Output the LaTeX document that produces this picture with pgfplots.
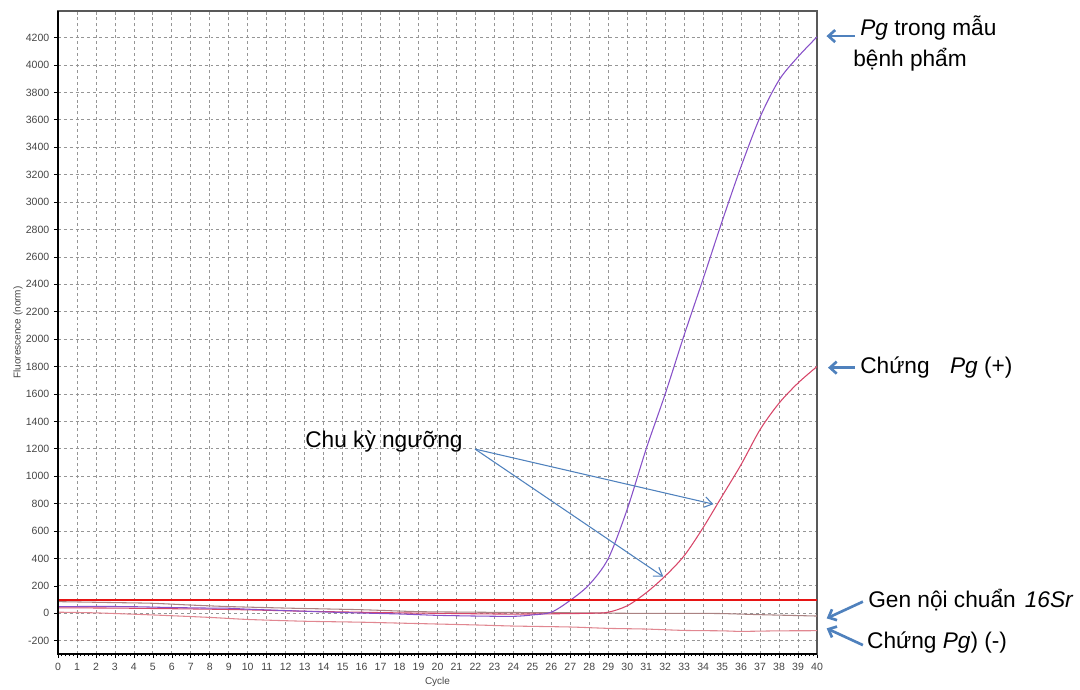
\documentclass[border=0pt]{standalone}
\usepackage{fontspec}
\setmainfont{Liberation Sans}
\usepackage{pgfplots}
\pgfplotsset{compat=1.18}
\usetikzlibrary{arrows.meta}
\definecolor{cpurple}{RGB}{135,80,200}
\definecolor{cred}{RGB}{215,70,105}
\definecolor{cgray}{RGB}{170,130,130}
\definecolor{cpink}{RGB}{225,135,145}
\definecolor{thr}{RGB}{230,20,20}
\definecolor{arrblue}{RGB}{79,129,189}
\definecolor{txtgray}{RGB}{70,70,70}
\definecolor{gridgray}{RGB}{150,150,150}

\pgfplotstableread{
x y
0 48
2 50
4 48
6 42
8 38
9 37
10 30
12 20
14 10
16 2
18 -5
19 -10
20 -15
22 -20
24 -22
25 -12
26 8
27 95
28 210
29 400
30 760
31 1200
32 1600
33 2030
34 2440
35 2860
36 3260
37 3620
38 3890
39 4060
40 4205
}\sample

\pgfplotstableread{
x y
0 40
3 38
5 35
8 30
10 25
13 15
15 10
18 3
20 0
23 -5
25 -5
28 0
29 8
30 55
31 150
32 272
33 420
34 625
35 855
36 1085
37 1340
38 1533
39 1680
40 1800
}\pos

\pgfplotstableread{
x y
0 85
3 78
5 73
7 60
9 49
12 38
16 26
19 12
22 8
25 5
28 3
30 0
33 0
35 -2
37 -10
40 -20
}\gen

\pgfplotstableread{
x y
0 8
2 3
5 -12
8 -30
10 -45
13 -58
16 -65
19 -75
22 -85
24 -93
27 -100
29 -110
31 -115
33 -125
35 -128
36 -132
38 -128
40 -127
}\neg

\begin{document}
\begin{tikzpicture}
\useasboundingbox (-43.5pt,-26.25pt) rectangle (766.5pt,490.5pt);
\begin{axis}[
  at={(0,0)}, anchor=south west,
  scale only axis, width=569.25pt, height=482.25pt,
  xmin=0, xmax=40, ymin=-297, ymax=4394,
  xtick={0,...,40}, ytick={-200,0,...,4200},
  minor x tick num=4,
  tick pos=left,
  grid=major,
  major grid style={draw=gridgray, line width=0.6pt, dash pattern=on 2.2pt off 2.2pt},
  tick align=outside,
  major tick length=3pt, minor tick length=1.8pt,
  tick style={draw=black, line width=0.5pt},
  axis line style={draw=gray!70!black, line width=1.2pt},
  ticklabel style={font=\fontsize{7.9}{9}\selectfont, text=txtgray},
  xticklabel style={text height=6pt, text depth=0pt},
  /pgf/number format/assume math mode=true,
  /pgf/number format/1000 sep={},
  scaled y ticks=false,
  xlabel={Cycle}, ylabel={Fluorescence (norm)},
  every axis x label/.style={at={(axis description cs:0.5,-0.0436)}, anchor=center, font=\fontsize{7.5}{9}\selectfont, text=txtgray},
  every axis y label/.style={at={(axis description cs:-0.0527,0.5)}, rotate=90, anchor=center, font=\fontsize{7.5}{9}\selectfont, text=txtgray},
  clip=false,
]
\addplot[cpink, line width=0.8pt, smooth, tension=0.4] table[x=x,y=y] {\neg};
\addplot[cgray, line width=0.8pt, smooth, tension=0.4] table[x=x,y=y] {\gen};
\addplot[cred, line width=0.8pt, smooth, tension=0.5] table[x=x,y=y] {\pos};
\addplot[cpurple, line width=0.8pt, smooth, tension=0.5] table[x=x,y=y] {\sample};
\addplot[thr, line width=1.6pt] coordinates {(0,100) (40,100)};

\draw[black, line width=2.2pt] (rel axis cs:0,1) -- (rel axis cs:0,0) -- (rel axis cs:1,0);

% annotations
\node[anchor=west, font=\fontsize{17}{20}\selectfont, inner sep=0pt] at (axis cs:42.27,4270) {\textit{Pg} trong mẫu};
\node[anchor=west, font=\fontsize{17}{20}\selectfont, inner sep=0pt] at (axis cs:41.9,4040) {bệnh phẩm};
\draw[arrblue, line width=2pt, -{Straight Barb[length=5pt,width=9pt]}] (axis cs:42.0,4211) -- (axis cs:40.5,4211);

\node[anchor=west, font=\fontsize{17}{20}\selectfont, inner sep=0pt] at (axis cs:42.27,1792) {Chứng\hspace{0.9em}\textit{Pg} (+)};
\draw[arrblue, line width=2pt, -{Straight Barb[length=5pt,width=9pt]}] (axis cs:42.0,1792) -- (axis cs:40.58,1792);

\node[anchor=west, font=\fontsize{17}{20}\selectfont, inner sep=0pt] at (axis cs:42.69,97) {Gen nội chuẩn\hspace{0.4em}\textit{16Sr}};
\draw[arrblue, line width=2pt, -{Straight Barb[length=5pt,width=9pt]}] (axis cs:42.42,85) -- (axis cs:40.51,-37);

\node[anchor=west, font=\fontsize{17}{20}\selectfont, inner sep=0pt] at (axis cs:42.63,-215) {Chứng \textit{Pg}) (-)};
\draw[arrblue, line width=2pt, -{Straight Barb[length=5pt,width=9pt]}] (axis cs:42.42,-232) -- (axis cs:40.51,-110);

\node[anchor=west, font=\fontsize{17}{20}\selectfont, inner sep=0pt] at (axis cs:13.02,1253) {Chu kỳ ngưỡng};
\draw[arrblue, line width=0.8pt, -{Straight Barb[length=6pt,width=8pt]}] (axis cs:21.98,1198) -- (axis cs:34.54,796);
\draw[arrblue, line width=0.8pt, -{Straight Barb[length=6pt,width=8pt]}] (axis cs:21.98,1198) -- (axis cs:31.9,267);
\end{axis}
\end{tikzpicture}
\end{document}
